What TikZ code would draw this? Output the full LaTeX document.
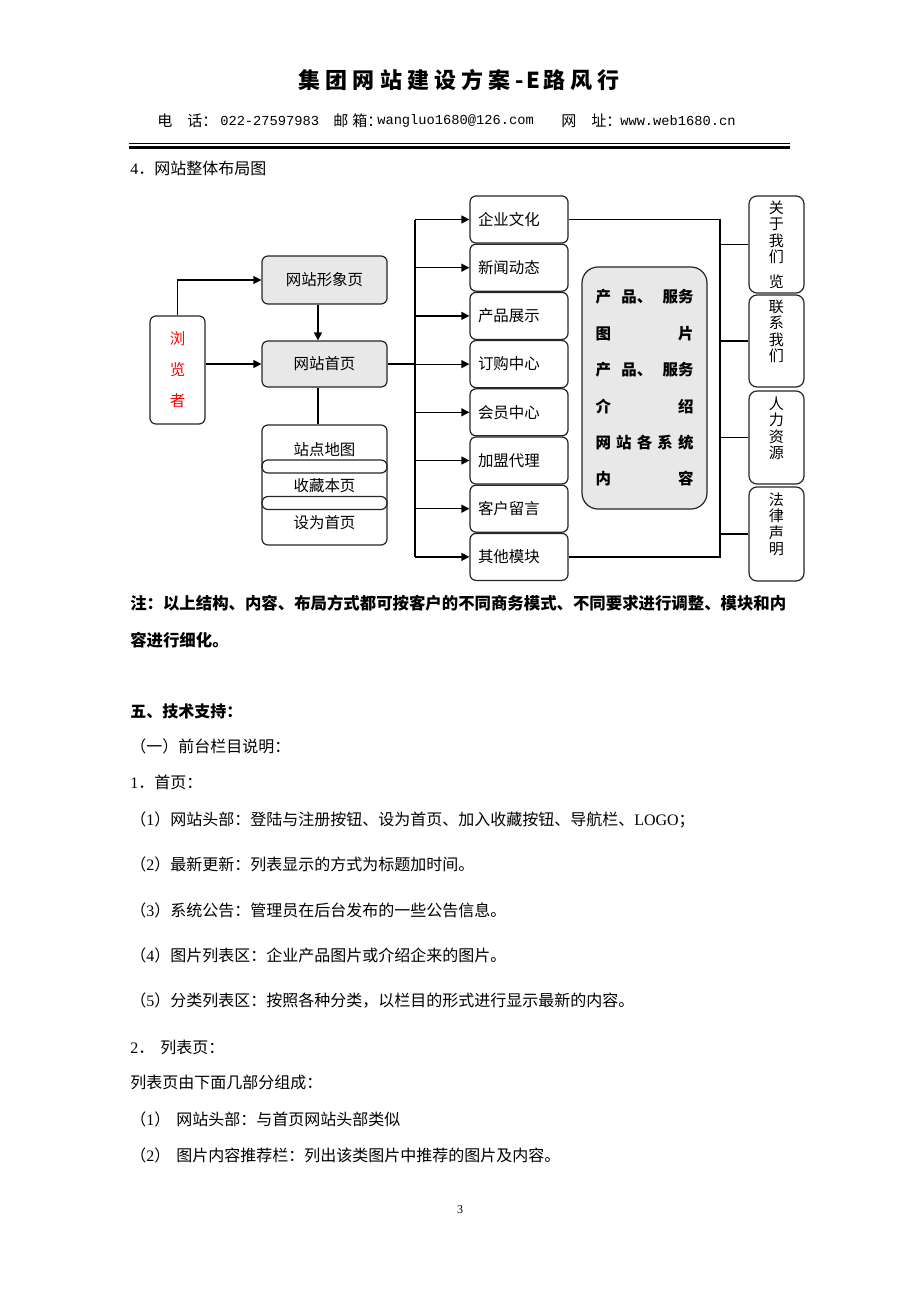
\documentclass[tikz,border=0pt]{standalone}
\usepackage{fontspec}
\setmainfont{Liberation Serif}
\setmonofont{Liberation Mono}
\newfontfamily\cjk{Noto Sans CJK SC}
\usetikzlibrary{
    arrows.meta,
    positioning
}
\newdimen\pxu
\pxu=0.75pt
\newcommand\lat[1]{{\rmfamily #1}}
\newcommand\tc[1]{\makebox[27.2\pxu]{#1}}
\newcommand\hc[1]{\makebox[13.6\pxu]{#1}}

\tikzset{
    box/.style={draw=black!85, line width=0.9pt, rounded corners=4.5pt, inner sep=0pt,
        font=\cjk\fontsize{11.6pt}{14pt}\selectfont},
    shaded/.style={box, fill=black!9},
    module/.style={box, minimum width=98\pxu, minimum height=47\pxu, text width=82\pxu, align=left},
    pill/.style={box, minimum width=125\pxu, minimum height=13\pxu},
    side/.style={box, minimum width=55\pxu, rounded corners=6pt},
    vtext/.style={anchor=north, inner sep=0pt, align=center,
        font=\cjk\fontsize{11.3pt}{12.4pt}\selectfont},
    plain/.style={inner sep=0pt, font=\cjk\fontsize{11.6pt}{14pt}\selectfont},
    body/.style={anchor=west, inner sep=0pt, font=\cjk\fontsize{12pt}{14pt}\selectfont},
    bodybold/.style={body, font=\cjk\bfseries\fontsize{12pt}{14pt}\selectfont},
    hdr/.style={anchor=west, inner sep=0pt, font=\cjk\fontsize{11.3pt}{14pt}\selectfont},
    mono/.style={anchor=west, inner sep=0pt, font=\ttfamily\fontsize{10.3pt}{14pt}\selectfont},
    link/.style={line width=0.9pt},
    >={Triangle[length=6pt, width=6pt]}
}

\begin{document}
\begin{tikzpicture}[x=0.75pt, y=-0.75pt]
    \path[fill=white] (0,0) rectangle (920,1302);
    \useasboundingbox (0,0) rectangle (920,1302);

    % page header
    \node[inner sep=0pt, font=\cjk\bfseries\fontsize{16.5pt}{20pt}\selectfont] (title) at (459,80)
        {\tc{集}\tc{团}\tc{网}\tc{站}\tc{建}\tc{设}\tc{方}\tc{案}\hc{-}\hc{E}\tc{路}\tc{风}\tc{行}};
    \node[hdr] (tel) at (157,121) {电　话：};
    \node[mono] (telno) at (220,121) {022-27597983};
    \node[hdr] (mail) at (333,121) {邮\hspace{4\pxu}箱：};
    \node[mono] (mailaddr) at (377,121) {wangluo1680@126.com};
    \node[hdr] (web) at (561,121) {网　址：};
    \node[mono] (webaddr) at (620,121) {www.web1680.cn};
    \draw[line width=0.75pt] (129,144) -- (790,144);
    \draw[line width=2.25pt] (129,147.5) -- (790,147.5);

    \node[body] (sec4) at (130,168) {\lat{4}．网站整体布局图};

    % left part
    \node[box, minimum width=55\pxu, minimum height=108\pxu, align=center, text=red,
        font=\cjk\fontsize{11.6pt}{23.3pt}\selectfont] (viewer) at (177.5,370) {浏\\览\\者};
    \node[shaded, minimum width=125\pxu, minimum height=48\pxu] (image) at (324.5,280) {网站形象页};
    \node[shaded, minimum width=125\pxu, minimum height=46\pxu] (home) at (324.5,364) {网站首页};
    \node[box, minimum width=125\pxu, minimum height=120\pxu] (tools) at (324.5,485) {};
    \node[pill] (bar1) at (324.5,466.5) {};
    \node[pill] (bar2) at (324.5,503) {};
    \node[plain] (sitemap) at (324.5,450) {站点地图};
    \node[plain] (bookmark) at (324.5,486) {收藏本页};
    \node[plain] (sethome) at (324.5,523) {设为首页};

    \coordinate (mid) at (318,0);
    \draw[link, ->] (viewer.north) |- (image.west);
    \draw[link, ->] (viewer.east |- home.west) -- (home.west);
    \draw[link, ->] (mid |- image.south) -- (mid |- home.north);
    \draw[link] (mid |- home.south) -- (mid |- tools.north);

    % modules
    \foreach \txt [count=\i from 0] in {企业文化,新闻动态,产品展示,订购中心,会员中心,加盟代理,客户留言,其他模块}
        \node[module] (m\i) at (519,219.5+48.2*\i) {\txt};

    \coordinate (bus) at (415,0);
    \draw[link] (bus |- m0) -- (bus |- m7);
    \foreach \i in {0,...,7}
        \draw[link, ->] (bus |- m\i) -- (m\i.west);
    \draw[link] (home.east) -- (bus |- home.east);

    \node[shaded, rounded corners=12pt, minimum width=125\pxu, minimum height=242\pxu,
        text width=98\pxu, align=left,
        font=\cjk\bfseries\fontsize{11.6pt}{27.3pt}\selectfont] (info) at (644.5,388)
        {产\hfill 品、\hfill 服务\\
         图\hfill 片\\
         产\hfill 品、\hfill 服务\\
         介\hfill 绍\\
         网\hfill 站\hfill 各\hfill 系\hfill 统\\
         内\hfill 容};

    % right part
    \coordinate (rbus) at (720,0);
    \draw[link] (m0.east) -- (rbus |- m0) -- (rbus |- m7) -- (m7.east);

    \node[side, minimum height=97\pxu] (about) at (776.5,244.5) {};
    \node[side, minimum height=92\pxu] (contact) at (776.5,341) {};
    \node[side, minimum height=93\pxu] (hr) at (776.5,437.5) {};
    \node[side, minimum height=94\pxu] (legal) at (776.5,534) {};
    \node[vtext] (aboutTxt) at ([yshift=-5\pxu]about.north) {关\\于\\我\\们\\[6pt]览};
    \node[vtext] (contactTxt) at ([yshift=-5\pxu]contact.north) {联\\系\\我\\们};
    \node[vtext] (hrTxt) at ([yshift=-6\pxu]hr.north) {人\\力\\资\\源};
    \node[vtext] (legalTxt) at ([yshift=-6\pxu]legal.north) {法\\律\\声\\明};
    \foreach \s in {about,contact,hr,legal}
        \draw[link] (rbus |- \s.west) -- (\s.west);

    % text below
    \node[body, font=\cjk\bfseries\fontsize{12.3pt}{14pt}\selectfont] (note1) at (130,603)
        {注：以上结构、内容、布局方式都可按客户的不同商务模式、不同要求进行调整、模块和内};
    \node[body, font=\cjk\bfseries\fontsize{12.3pt}{14pt}\selectfont] (note2) at (130,640) {容进行细化。};

    \node[bodybold] (sec5) at (130,711) {五、技术支持：};
    \node[body] (front) at (130,746) {（一）前台栏目说明：};
    \node[body] (index) at (130,782) {\lat{1}．首页：};
    \node[body] (idx1) at (130,820) {（\lat{1}）网站头部：登陆与注册按钮、设为首页、加入收藏按钮、导航栏、\lat{LOGO}；};
    \node[body] (idx2) at (130,864) {（\lat{2}）最新更新：列表显示的方式为标题加时间。};
    \node[body] (idx3) at (130,910) {（\lat{3}）系统公告：管理员在后台发布的一些公告信息。};
    \node[body] (idx4) at (130,955) {（\lat{4}）图片列表区：企业产品图片或介绍企来的图片。};
    \node[body] (idx5) at (130,1000) {（\lat{5}）分类列表区：按照各种分类，以栏目的形式进行显示最新的内容。};
    \node[body] (list) at (130,1047) {\lat{2}．\hspace{6\pxu}列表页：};
    \node[body] (listintro) at (130,1082) {列表页由下面几部分组成：};
    \node[body] (lst1) at (130,1119) {（\lat{1}）\hspace{6\pxu}网站头部：与首页网站头部类似};
    \node[body] (lst2) at (130,1155) {（\lat{2}）\hspace{6\pxu}图片内容推荐栏：列出该类图片中推荐的图片及内容。};

    \node[inner sep=0pt, font=\rmfamily\fontsize{9pt}{11pt}\selectfont] (pageno) at (460,1210) {3};
\end{tikzpicture}
\end{document}
